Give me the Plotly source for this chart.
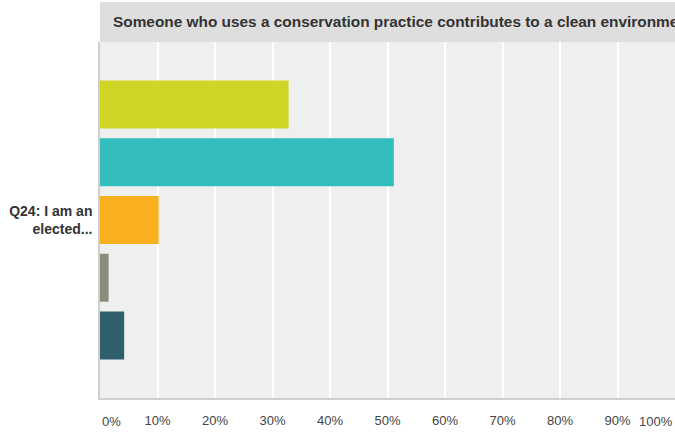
import plotly.graph_objects as go

# 回答の割合（%）
question = "Q24: I am an<br>elected..."
answers = ["Strongly agree", "Agree", "Neither agree nor disagree", "Disagree", "Strongly disagree"]
values = [32.8, 51.1, 10.2, 1.5, 4.2]
colors = ["#d0d626", "#33bdbf", "#f8b01f", "#8c8c7c", "#2f5f6c"]
tick_vals = [10, 20, 30, 40, 50, 60, 70, 80, 90]
tick_text = [f"{v}%" for v in tick_vals]
title = "Someone who uses a conservation practice contributes to a clean environment."

fig = go.Figure()
for name, v, c in zip(answers, values, colors):
    fig.add_trace(go.Bar(
        y=[question], x=[v], name=name, orientation="h",
        marker=dict(color=c, line=dict(width=0)),
    ))

H_PLOT = 432 - 42 - 34

fig.update_layout(
    width=675, height=432,
    margin=dict(l=100, r=0, t=42, b=34, autoexpand=False),
    barmode="group", bargap=0.189, bargroupgap=0.169,
    showlegend=False,
    plot_bgcolor="#efefef", paper_bgcolor="white",
    font=dict(family="Liberation Sans, Arial, sans-serif", color="#333"),
)
fig.update_xaxes(
    range=[0, 100], tickvals=tick_vals, ticktext=tick_text, automargin=False,
    showgrid=True, gridcolor="white", gridwidth=1.5,
    showline=True, linecolor="#cfcfcf", linewidth=1.5,
    zeroline=False, ticks="", ticklabelstandoff=10,
    tickfont=dict(size=13, color="#444"),
)
fig.update_yaxes(
    autorange="reversed", showgrid=False, zeroline=False, automargin=False,
    showline=True, linecolor="#cfcfcf", linewidth=1.5,
    ticks="", ticklabelstandoff=3,
    tickfont=dict(size=14, color="#333", weight="bold"),
)

# ヘッダー帯
fig.add_shape(type="rect", xref="paper", yref="paper",
              x0=0, x1=1, y0=1, y1=1 + 40 / H_PLOT,
              fillcolor="#dedede", line=dict(width=0), layer="below")
fig.add_annotation(text=f"<b>{title}</b>", xref="paper", yref="paper",
                   x=11 / 575, y=1 + 21 / H_PLOT, xanchor="left", yanchor="middle",
                   showarrow=False, font=dict(size=15.4, color="#333"))

# 端の目盛りラベル
for v, anchor in [(0, "left"), (100, "right")]:
    fig.add_annotation(text=f"{v}%", x=v, xref="x", yref="paper", y=-23 / H_PLOT,
                       xanchor=anchor, yanchor="middle", showarrow=False,
                       font=dict(size=13, color="#444"))

# ページ余白を消す
fig.write_html("out.html", config={"displayModeBar": False},
               post_script="document.body.style.margin='0';document.body.style.overflow='hidden';")
